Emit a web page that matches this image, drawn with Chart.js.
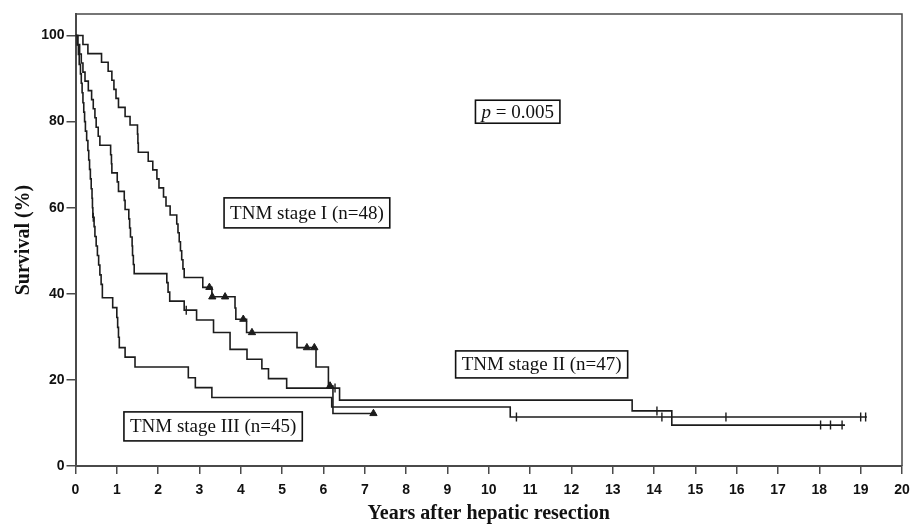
<!DOCTYPE HTML>
<html>
<head>
    <script src="https://cdn.jsdelivr.net/npm/chart.js"></script>
    <style>
        body { margin: 0; background: white; }
    </style>
</head>
<body>

<canvas id="kmChart" width="910" height="526"></canvas>

<script type="text/javascript">
    // Kaplan-Meier steps (years, survival %)
    const stage1Time = [0, 0.18, 0.3, 0.63, 0.79, 0.88, 0.93, 0.98, 1.04, 1.2, 1.32, 1.5, 1.51, 1.52, 1.76, 1.87, 1.97, 2.02, 2.13, 2.19,
                        2.29, 2.45, 2.48, 2.51, 2.54, 2.57, 2.6, 2.63, 3.08, 3.3, 3.86, 3.88, 4.14, 5.36, 5.82, 6.12, 6.23, 7.25];
    const stage1Surv = [100, 97.9, 95.8, 93.8, 91.7, 89.6, 87.5, 85.4, 83.3, 81.2, 79.2, 77.1, 75.0, 72.9, 70.8, 68.8, 66.7, 64.6, 62.5, 60.4,
                        58.3, 56.2, 54.2, 52.1, 50.0, 47.9, 45.8, 43.8, 41.5, 39.3, 36.7, 34.1, 31.0, 27.5, 23.0, 18.6, 12.2, 12.2];
    const stage1Censored = [3.24, 3.31, 3.62, 4.06, 4.27, 5.6, 5.78, 6.16, 7.21];

    const stage2Time = [0, 0.06, 0.1, 0.14, 0.18, 0.23, 0.31, 0.39, 0.43, 0.47, 0.5, 0.55, 0.59, 0.85, 0.87, 0.88, 1.01, 1.04, 1.18, 1.2,
                        1.29, 1.31, 1.33, 1.37, 1.38, 1.4, 1.42, 2.21, 2.24, 2.28, 2.63, 2.93, 3.34, 3.74, 4.15, 4.51, 4.67, 5.11, 6.39, 13.47,
                        14.43, 18.62];
    const stage2Surv = [100, 97.9, 95.7, 93.6, 91.5, 89.4, 87.2, 85.1, 83.0, 80.9, 78.7, 76.6, 74.5, 72.3, 70.2, 68.1, 66.0, 63.8, 61.7, 59.6,
                        57.4, 55.3, 53.2, 51.1, 48.9, 46.8, 44.7, 42.6, 40.4, 38.3, 36.2, 33.9, 31.0, 27.1, 24.8, 22.6, 20.3, 18.1, 15.3, 12.8,
                        9.5, 9.5];
    const stage2Censored = [2.68, 6.28, 14.07, 18.03, 18.27, 18.55];

    const stage3Time = [0, 0.04, 0.07, 0.09, 0.12, 0.14, 0.16, 0.18, 0.2, 0.22, 0.24, 0.27, 0.3, 0.32, 0.34, 0.36, 0.38, 0.4, 0.41, 0.42,
                        0.45, 0.47, 0.5, 0.53, 0.56, 0.59, 0.62, 0.65, 0.9, 1.0, 1.02, 1.04, 1.06, 1.2, 1.44, 2.73, 2.9, 3.3, 6.2, 10.52,
                        19.15];
    const stage3Surv = [100, 97.8, 95.6, 93.3, 91.1, 88.9, 86.7, 84.4, 82.2, 80.0, 77.8, 75.6, 73.3, 71.1, 68.9, 66.7, 64.4, 62.2, 60.0, 57.8,
                        55.6, 53.3, 51.1, 48.9, 46.7, 44.4, 42.2, 39.1, 36.8, 34.5, 32.2, 29.9, 27.5, 25.3, 23.0, 20.5, 18.2, 15.9, 13.7, 11.4,
                        11.4];
    const stage3Censored = [0.43, 10.67, 14.19, 15.74, 19.0, 19.12];

    const yTicks = [0, 20, 40, 60, 80, 100];

    // boxed labels, anchored at data coordinates (centre of the box)
    const boxLabels = [
        { pre: 'p', text: ' = 0.005', x: 10.7, y: 82.3, size: 19, h: 23 },
        { text: 'TNM stage I (n=48)', x: 5.6, y: 58.8, size: 19, h: 30 },
        { text: 'TNM stage II (n=47)', x: 11.28, y: 23.6, size: 19, h: 27 },
        { text: 'TNM stage III (n=45)', x: 3.33, y: 9.2, size: 19, h: 29 }
    ];

    const ink = '#1c1c1c';
    const axisColor = '#4a4a4a';
    const serif = '"Liberation Serif", "Times New Roman", serif';
    const sans = '"Liberation Sans Narrow", "Arial Narrow", "Liberation Sans", Arial, sans-serif';

    function curvePoints(times, surv) {
        return times.map((t, i) => ({ x: t, y: surv[i] }));
    }

    function survAt(times, surv, t) {
        let v = surv[0];
        for (let i = 0; i < times.length; i++) {
            if (times[i] <= t) v = surv[i];
        }
        return v;
    }

    function markPoints(times, surv, marks) {
        return marks.map(t => ({ x: t, y: survAt(times, surv, t) }));
    }

    function curve(label, times, surv) {
        return {
            label: label,
            data: curvePoints(times, surv),
            stepped: true,
            borderColor: ink,
            borderWidth: 1.6,
            pointRadius: 0,
            fill: false
        };
    }

    function censorTicks(label, times, surv, marks) {
        return {
            type: 'scatter',
            label: label,
            data: markPoints(times, surv, marks),
            showLine: false,
            pointStyle: 'line',
            rotation: 90,
            pointRadius: 4.5,
            borderColor: ink,
            borderWidth: 1.4
        };
    }

    const frame = {
        id: 'frame',
        afterDatasetsDraw(chart) {
            const a = chart.chartArea;
            const ctx = chart.ctx;
            ctx.save();
            ctx.strokeStyle = axisColor;
            ctx.lineWidth = 1.5;
            ctx.beginPath();
            ctx.moveTo(a.left, a.top);
            ctx.lineTo(a.right, a.top);
            ctx.lineTo(a.right, a.bottom);
            ctx.stroke();
            ctx.restore();
        }
    };

    const boxes = {
        id: 'boxes',
        afterDraw(chart) {
            const ctx = chart.ctx;
            const xs = chart.scales.x;
            const ys = chart.scales.y;
            ctx.save();
            boxLabels.forEach(b => {
                const font = b.size + 'px ' + serif;
                const italic = 'italic ' + font;
                ctx.font = italic;
                const preW = b.pre ? ctx.measureText(b.pre).width : 0;
                ctx.font = font;
                const w = preW + ctx.measureText(b.text).width;
                const cx = xs.getPixelForValue(b.x);
                const cy = ys.getPixelForValue(b.y);
                const bw = w + 12;
                const left = cx - bw / 2;
                ctx.fillStyle = 'white';
                ctx.fillRect(left, cy - b.h / 2, bw, b.h);
                ctx.strokeStyle = '#111';
                ctx.lineWidth = 1.6;
                ctx.strokeRect(left, cy - b.h / 2, bw, b.h);
                ctx.fillStyle = '#111';
                ctx.textBaseline = 'middle';
                ctx.textAlign = 'left';
                if (b.pre) {
                    ctx.font = italic;
                    ctx.fillText(b.pre, left + 6, cy + 1);
                }
                ctx.font = font;
                ctx.fillText(b.text, left + 6 + preW, cy + 1);
            });
            ctx.restore();
        }
    };

    const config = {
        type: 'line',
        data: {
            datasets: [
                curve('TNM stage I', stage1Time, stage1Surv),
                curve('TNM stage II', stage2Time, stage2Surv),
                curve('TNM stage III', stage3Time, stage3Surv),
                {
                    type: 'scatter',
                    label: 'stage I censored',
                    data: markPoints(stage1Time, stage1Surv, stage1Censored),
                    showLine: false,
                    pointStyle: 'triangle',
                    pointRadius: 4.2,
                    backgroundColor: ink,
                    borderColor: ink,
                    borderWidth: 1
                },
                censorTicks('stage II censored', stage2Time, stage2Surv, stage2Censored),
                censorTicks('stage III censored', stage3Time, stage3Surv, stage3Censored)
            ]
        },
        options: {
            responsive: false,
            animation: false,
            events: [],
            layout: { padding: { top: 14, right: 8, left: 0, bottom: 0 } },
            plugins: {
                legend: { display: false },
                tooltip: { enabled: false }
            },
            scales: {
                x: {
                    type: 'linear',
                    min: 0,
                    max: 20,
                    ticks: {
                        stepSize: 1,
                        color: '#111',
                        padding: 8,
                        font: { family: sans, size: 14, weight: 'bold' }
                    },
                    grid: { drawOnChartArea: false, tickLength: 8, color: axisColor, lineWidth: 1.5 },
                    border: { color: axisColor, width: 2 },
                    title: {
                        display: true,
                        text: 'Years after hepatic resection',
                        color: '#111',
                        font: { family: serif, size: 20, weight: 'bold' },
                        padding: { top: 0, bottom: 0 }
                    },
                    // fixed height, and no extra room kept for the end labels
                    afterFit: s => { s.height = 60; s.paddingLeft = 0; s.paddingRight = 0; }
                },
                y: {
                    min: 0,
                    max: 105,
                    afterBuildTicks: s => { s.ticks = yTicks.map(v => ({ value: v })); },
                    ticks: {
                        color: '#111',
                        padding: 2,
                        font: { family: sans, size: 14, weight: 'bold' }
                    },
                    grid: { drawOnChartArea: false, tickLength: 9, color: axisColor, lineWidth: 1.5 },
                    border: { color: axisColor, width: 2 },
                    title: {
                        display: true,
                        text: 'Survival (%)',
                        color: '#111',
                        font: { family: serif, size: 20, weight: 'bold' },
                        padding: { top: 12, bottom: 0 }
                    },
                    afterFit: s => { s.width = 75.5; }
                }
            }
        },
        plugins: [frame, boxes]
    };

    const kmChart = new Chart(document.getElementById('kmChart'), config);
</script>

</body>
</html>
